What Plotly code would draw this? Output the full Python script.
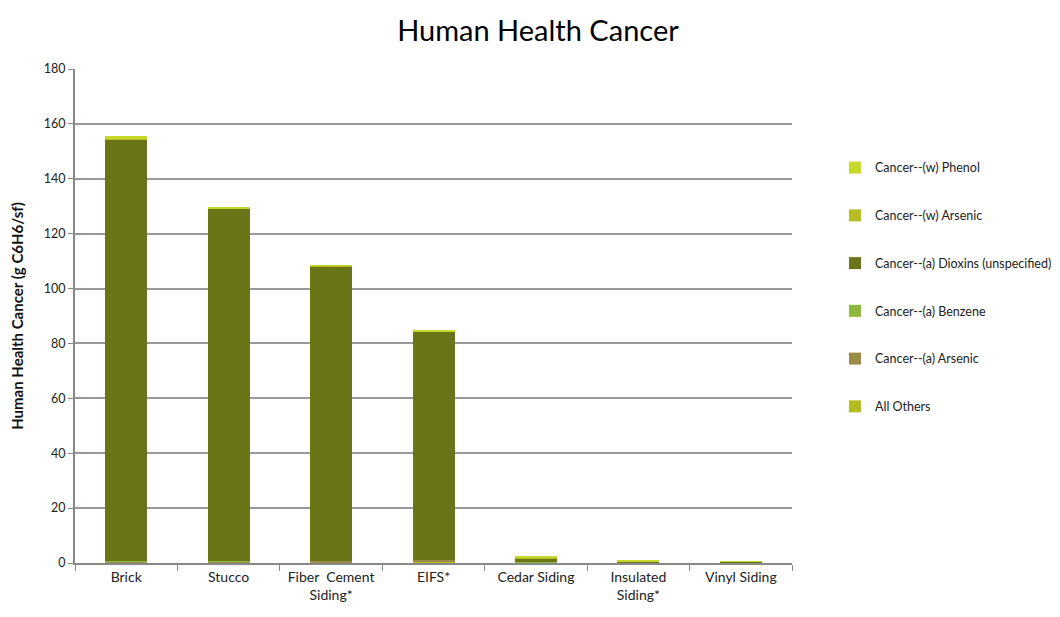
import plotly.graph_objects as go

categories = ["Brick", "Stucco", "Fiber  Cement<br>Siding*", "EIFS*", "Cedar Siding", "Insulated<br>Siding*", "Vinyl Siding"]

all_others = [0.2, 0.2, 0.2, 0.2, 0.1, 0.05, 0.05]
a_arsenic = [0.3, 0.3, 0.6, 0.9, 0.1, 0.05, 0.05]
a_benzene = [0.1, 0.1, 0.1, 0.1, 0.05, 0.05, 0.05]
a_dioxins = [153.6, 128.6, 107.3, 83.0, 1.3, 0.4, 0.3]
w_arsenic = [0.2, 0.1, 0.1, 0.2, 0.1, 0.05, 0.05]
w_phenol = [1.1, 0.2, 0.2, 0.5, 0.8, 0.3, 0.2]

series = [
    ("All Others", all_others, "#B3BC22"),
    ("Cancer--(a) Arsenic", a_arsenic, "#9A8B45"),
    ("Cancer--(a) Benzene", a_benzene, "#8DB83A"),
    ("Cancer--(a) Dioxins (unspecified)", a_dioxins, "#6A7518"),
    ("Cancer--(w) Arsenic", w_arsenic, "#B5BD21"),
    ("Cancer--(w) Phenol", w_phenol, "#C5D92D"),
]

FONT = "Lato, 'Open Sans', sans-serif"

fig = go.Figure()
n = len(series)
for i, (name, vals, color) in enumerate(series):
    fig.add_trace(go.Bar(
        x=categories, y=vals, name=name, marker_color=color,
        marker_line_width=0, legendgroup=name, legendrank=n - i,
    ))

W, H = 1044, 601
fig.update_layout(
    barmode="stack",
    bargap=0.59,
    width=W, height=H,
    paper_bgcolor="white", plot_bgcolor="white",
    margin=dict(l=67, r=260, t=61, b=46, autoexpand=False),
    font=dict(family=FONT, size=12, color="#222"),
    title=dict(text="Human Health Cancer", x=530 / W, xanchor="center", xref="container",
               y=1 - 23 / H, yref="container", yanchor="middle",
               font=dict(size=29, family=FONT, color="#000")),
    legend=dict(x=1.06, xanchor="left", y=0.830, yanchor="top",
                traceorder="grouped", tracegroupgap=28.5,
                font=dict(size=12.5, family=FONT, color="#222"),
                itemwidth=30),
    showlegend=True,
)
fig.update_xaxes(
    type="category", showline=True, linecolor="#888", linewidth=2,
    ticks="outside", tickson="boundaries", ticklen=6, tickcolor="#888",
    tickangle=0,
    tickfont=dict(size=14, family=FONT, color="#222"), showgrid=False,
)
fig.update_yaxes(
    range=[0, 180], dtick=20, showline=True, linecolor="#888", linewidth=2,
    ticks="outside", ticklen=5, tickcolor="#888",
    showgrid=True, gridcolor="#999", gridwidth=1.5,
    tickfont=dict(size=12.5, family=FONT, color="#222"),
    title=dict(text="Human Health Cancer (g C6H6/sf)",
               font=dict(size=15, family=FONT, color="#111", weight="bold"), standoff=21),
    zeroline=False,
)

fig.write_html("out.html")
